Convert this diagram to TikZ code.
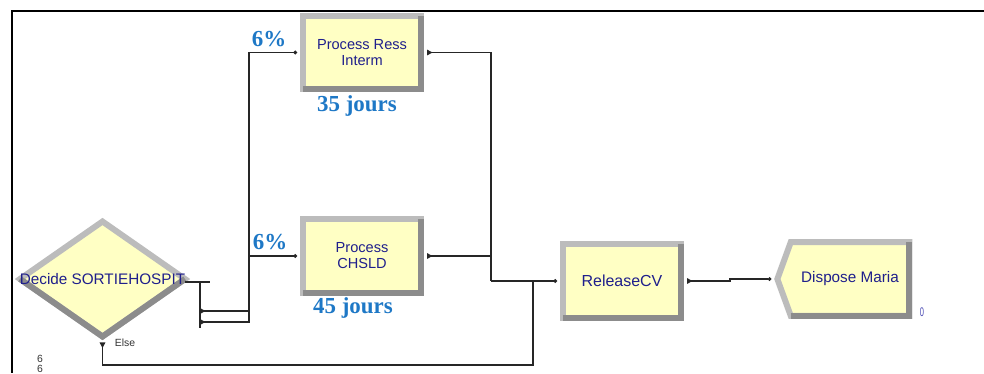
\documentclass[tikz,border=0pt]{standalone}
\usepackage{fontspec}
\setmainfont{Liberation Sans}
\newfontfamily\serifbold{Liberation Serif}
\usetikzlibrary{shapes.geometric,shapes.symbols,arrows.meta}
\definecolor{boxfill}{HTML}{FFFFC4}
\definecolor{bevellight}{HTML}{BCBCBC}
\definecolor{beveldark}{HTML}{8C8C8C}
\definecolor{modtext}{HTML}{1F1F8C}
\definecolor{pctblue}{HTML}{1E78C6}
\definecolor{zeroblue}{HTML}{4B4BB4}
\begin{document}
\begin{tikzpicture}[x=0.72pt, y=-0.72pt,
    module/.style={draw=bevellight, fill=boxfill, line width=4.3pt, outer sep=0pt, text=modtext, align=center},
    box/.style={module, rectangle, minimum width=85pt, minimum height=53pt, font=\fontsize{10.5}{11.5}\selectfont},
    dark/.style={draw=beveldark, line width=4.3pt},
    wire/.style={line width=0.9pt, black!85},
    xp/.tip={Triangle[reversed, length=4pt, width=4pt]},
    en/.tip={Circle[length=2.6pt]},
    pct/.style={text=pctblue, font=\serifbold\bfseries\fontsize{16.5}{18}\selectfont, anchor=base},
    smalltxt/.style={font=\fontsize{7.5}{8}\selectfont, text=black!80}]
  \useasboundingbox (0,0) rectangle (984,373);
  \draw[line width=1.4pt] (984,11) -- (12,11) -- (12,373);
  % modules
  \node[module, diamond, minimum width=118.8pt, minimum height=82.8pt] (decide) at (102.5,279) {};
  \node[box] (ress) at (362,52.5) {Process Ress\\Interm};
  \node[box] (chsld) at (362,256) {Process\\CHSLD};
  \node[box, font=\fontsize{11.5}{13}\selectfont] (release) at (622,281) {ReleaseCV};
  \node[module, signal, signal to=west, signal from=nowhere, signal pointer angle=140,
    minimum width=95pt, minimum height=53pt, font=\fontsize{11}{13}\selectfont] (dispose) at (850,279) {Dispose Maria};
  % darker bevel edges
  \foreach \m in {ress,chsld,release}
    \draw[dark] (\m.south west) -- (\m.south east) -- (\m.north east);
  \draw[dark] (decide.west) -- (decide.south) -- (decide.east);
  \draw[dark] (dispose.south west) -- (dispose.south east) -- (dispose.north east);
  \node[text=modtext, font=\fontsize{11}{13}\selectfont] (decidetxt) at (decide) {Decide SORTIEHOSPIT};
  % connectors
  \coordinate (dexit1) at (200,311);
  \coordinate (dexit2) at (200,322);
  \coordinate (spine) at (249,0);
  \coordinate (join) at (491,281);
  \coordinate (elsebend) at (533,365);
  \coordinate (kink) at (730,0);
  \draw[wire] (decide.east) ++(0,3) -- ++(25,0);
  \draw[wire] (dexit1 |- decide.east) ++(0,3) -- ++(0,46);
  \draw[wire, xp-en, shorten >=4.3pt] (dexit1) -- (dexit1 -| spine) |- (ress.west);
  \draw[wire, xp-en, shorten >=4.3pt] (dexit2) -- (dexit2 -| spine) |- (chsld.west);
  \draw[wire, xp-, shorten <=4.3pt] (ress.east) -| (join);
  \draw[wire, xp-, shorten <=4.3pt] (chsld.east) -- (chsld.east -| join);
  \draw[wire, -en, shorten >=4.3pt] (join) -- (release.west);
  \draw[wire, xp-, shorten <=4.3pt] (decide.south) |- (elsebend) -- (elsebend |- release.west);
  \draw[wire, xp-en, shorten <=4.3pt, shorten >=4.3pt] (release.east) -- (release.east -| kink) |- (dispose.west);
  % labels
  \node[pct] (pct1) at (269,46) {6\%};
  \node[pct] (pct2) at (270,249) {6\%};
  \node[pct] (days1) at (357,111) {35 jours};
  \node[pct] (days2) at (353,313) {45 jours};
  \node[smalltxt, anchor=base west] (elsetxt) at (110,346) {Else};
  \node[smalltxt] (six1) at (40,359) {6};
  \node[smalltxt] (six2) at (40,369) {6};
  \node[text=zeroblue, font=\fontsize{9}{10}\selectfont, xscale=0.6] (zero) at (922,312) {0};
\end{tikzpicture}
\end{document}
